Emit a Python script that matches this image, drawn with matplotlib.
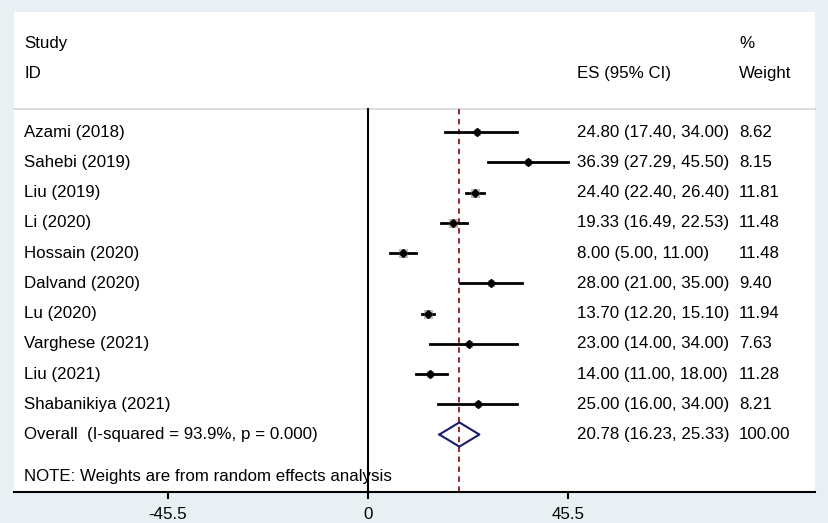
import matplotlib.pyplot as plt
import numpy as np

plt.rcParams["font.family"] = ["Liberation Sans", "DejaVu Sans"]

studies = ["Azami (2018)", "Sahebi (2019)", "Liu (2019)", "Li (2020)", "Hossain (2020)",
           "Dalvand (2020)", "Lu (2020)", "Varghese (2021)", "Liu (2021)", "Shabanikiya (2021)"]
es = np.array([24.80, 36.39, 24.40, 19.33, 8.00, 28.00, 13.70, 23.00, 14.00, 25.00])
ci_lo = np.array([17.40, 27.29, 22.40, 16.49, 5.00, 21.00, 12.20, 14.00, 11.00, 16.00])
ci_hi = np.array([34.00, 45.50, 26.40, 22.53, 11.00, 35.00, 15.10, 34.00, 18.00, 34.00])
weights = np.array([8.62, 8.15, 11.81, 11.48, 11.48, 9.40, 11.94, 7.63, 11.28, 8.21])

overall_es, overall_lo, overall_hi, overall_w = 20.78, 16.23, 25.33, 100.00
overall_label = "Overall  (I-squared = 93.9%, p = 0.000)"
note = "NOTE: Weights are from random effects analysis"
xticks = [-45.5, 0, 45.5]
xtick_labels = ["-45.5", "0", "45.5"]

bg = "#e8f0f3"
fs = 12.2

fig = plt.figure(figsize=(8.29, 5.23), dpi=100, facecolor=bg)
W, H = 829, 523
ax = fig.add_axes([14 / W, (H - 492) / H, (815 - 14) / W, (492 - 12) / H])
ax.set_facecolor("white")

x_left, x_right = -80.53, 101.68
y_bot, y_top = 11.9, -3.967
ax.set_xlim(x_left, x_right)
ax.set_ylim(y_bot, y_top)

col_study, col_es, col_w = -78.25, 47.5, 84.4
rows = np.arange(len(studies))
r_overall = len(studies)
r_note = 11.39
r_line = -0.76

# header
ax.text(col_study, -2.91, "Study", fontsize=fs, va="center")
ax.text(col_study, -1.95, "ID", fontsize=fs, va="center")
ax.text(col_es, -1.95, "ES (95% CI)", fontsize=fs, va="center")
ax.text(col_w, -2.91, "%", fontsize=fs, va="center")
ax.text(col_w, -1.95, "Weight", fontsize=fs, va="center")
ax.plot([x_left, x_right], [r_line, r_line], color="#dadada", lw=1.3, clip_on=False)

# reference lines
ax.plot([0, 0], [r_line, y_bot], color="black", lw=1.5, zorder=2)
ax.plot([overall_es, overall_es], [r_line, y_bot], color="#8b1a1a", lw=1.3,
        dashes=(3, 2.5), zorder=2)

# studies
for r, name, e, lo, hi, w in zip(rows, studies, es, ci_lo, ci_hi, weights):
    ax.plot([lo, hi], [r, r], color="black", lw=2, zorder=3)
    ax.plot(e, r, marker="s", ms=1.5 * np.sqrt(w), color="#c8c8c8",
            markeredgecolor="#b0b0b0", mew=0.6, zorder=3)
    ax.plot(e, r, marker="D", ms=4, color="black", zorder=4)
    ax.text(col_study, r, name, fontsize=fs, va="center")
    ax.text(col_es, r, f"{e:.2f} ({lo:.2f}, {hi:.2f})", fontsize=fs, va="center")
    ax.text(col_w, r, f"{w:.2f}", fontsize=fs, va="center")

# overall diamond
dx = [overall_lo, overall_es, overall_hi, overall_es, overall_lo]
dy = [r_overall, r_overall - 0.4, r_overall, r_overall + 0.4, r_overall]
ax.plot(dx, dy, color="#1a1a6e", lw=1.5, zorder=4)
ax.text(col_study, r_overall, overall_label, fontsize=fs, va="center")
ax.text(col_es, r_overall, f"{overall_es:.2f} ({overall_lo:.2f}, {overall_hi:.2f})",
        fontsize=fs, va="center")
ax.text(col_w, r_overall, f"{overall_w:.2f}", fontsize=fs, va="center")
ax.text(col_study, r_note, note, fontsize=fs, va="center")

for s in ["top", "left", "right"]:
    ax.spines[s].set_visible(False)
ax.spines["bottom"].set_linewidth(1.5)
ax.set_yticks([])
ax.set_xticks(xticks)
ax.set_xticklabels(xtick_labels, fontsize=fs)
ax.tick_params(axis="x", direction="out", length=5, width=1.5, pad=6)

fig.savefig("out.png", dpi=100, facecolor=bg)
